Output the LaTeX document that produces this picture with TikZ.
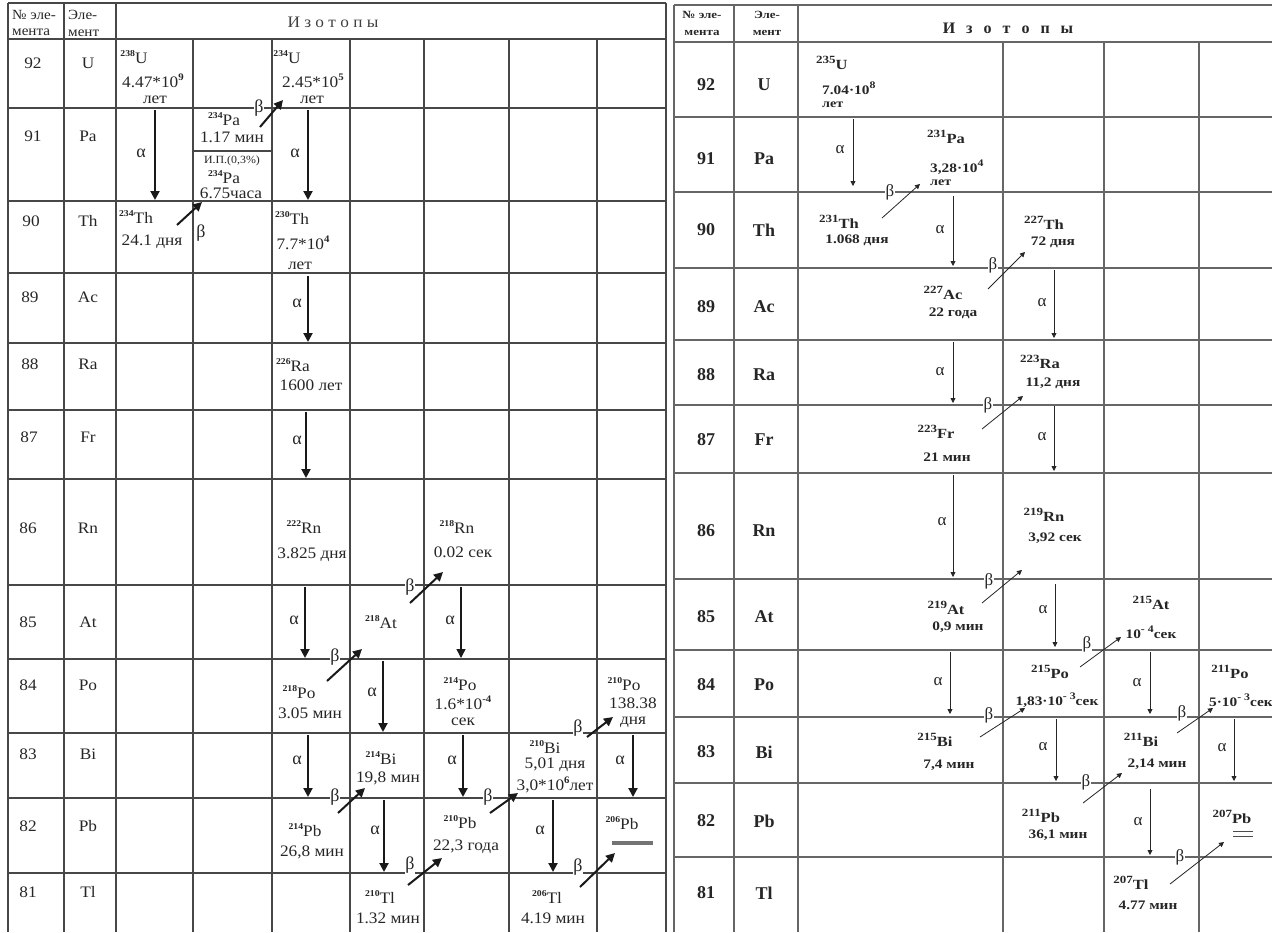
\documentclass[tikz,border=0pt]{standalone}
\usepackage{fontspec}
\setmainfont{Liberation Serif}
\newfontfamily\wideL[FakeStretch=1.08]{Liberation Serif}
\newfontfamily\wideR[FakeStretch=1.18]{Liberation Serif}
\usetikzlibrary{arrows.meta}
\newcommand\isoL[2]{\raisebox{0.4em}{\fontsize{9}{9}\selectfont\bfseries #1}#2}
\newcommand\isoR[2]{\raisebox{0.45em}{\fontsize{11}{11}\selectfont\bfseries #1}#2}
\newcommand\exL[1]{\raisebox{0.45em}{\fontsize{10}{10}\selectfont\bfseries #1}}
\newcommand\exR[1]{\raisebox{0.45em}{\fontsize{10}{10}\selectfont\bfseries #1}}
\newcommand\alL[4]{\coordinate (#1s) at (#2,#3); \coordinate (#1e) at (#2,#4); \draw[arrL] (#1s) -- (#1e);}
\newcommand\alR[4]{\coordinate (#1s) at (#2,#3); \coordinate (#1e) at (#2,#4); \draw[arrR] (#1s) -- (#1e);}
\newcommand\beL[5]{\coordinate (#1s) at (#2,#3); \coordinate (#1e) at (#4,#5); \draw[arrL] (#1s) -- (#1e);}
\newcommand\beR[5]{\coordinate (#1s) at (#2,#3); \coordinate (#1e) at (#4,#5); \draw[arrR] (#1s) -- (#1e);}
\begin{document}
\begin{tikzpicture}[x=1pt,y=-1pt,
  gridL/.style={line width=1.6pt, draw=black!72},
  gridR/.style={line width=1.4pt, draw=black!60},
  tL/.style={font=\wideL\fontsize{16}{18}\selectfont, inner sep=0pt, text=black!85},
  hL/.style={font=\wideL\fontsize{14}{16}\selectfont, inner sep=0pt, text=black!85, anchor=west},
  tR/.style={font=\wideR\fontsize{14}{16}\selectfont\bfseries, inner sep=0pt, text=black!85},
  tRs/.style={font=\wideR\fontsize{13}{14}\selectfont\bfseries, inner sep=0pt, text=black!85},
  nR/.style={font=\fontsize{18}{20}\selectfont\bfseries, inner sep=0pt, text=black!85},
  hR/.style={font=\wideR\fontsize{11}{13}\selectfont\bfseries, inner sep=0pt, text=black!85},
  arrL/.style={line width=2pt, draw=black!90, -{Triangle[length=9pt,width=9pt]}},
  arrR/.style={line width=0.8pt, draw=black!85, -{Triangle[length=5pt,width=5pt]}},
  aL/.style={font=\fontsize{18}{18}\selectfont, inner sep=0.5pt, text=black!85},
  bL/.style={font=\fontsize{18}{18}\selectfont, inner sep=0.5pt, fill=white, text=black!85},
  aR/.style={font=\fontsize{17}{17}\selectfont, inner sep=0.5pt, text=black!85},
  bR/.style={font=\fontsize{17}{17}\selectfont, inner sep=0.5pt, fill=white, text=black!85},
]
\useasboundingbox (0,0) rectangle (1272,932);
\fill[white] (0,0) rectangle (1272,932);

% ---------------- left table grid ----------------
\foreach \x in {8,64,116,666} \draw[gridL] (\x,3) -- (\x,932);
\foreach \x in {193,272,350,424,509,597} \draw[gridL] (\x,39) -- (\x,932);
\foreach \y in {3,39,108,201,273,343,410,479,585,659,733,798,873} \draw[gridL] (8,\y) -- (666,\y);
\draw[gridL] (193,151) -- (272,151);

% ---------------- right table grid ----------------
\foreach \x in {674,734,798} \draw[gridR] (\x,5) -- (\x,932);
\foreach \x in {1003,1104,1199} \draw[gridR] (\x,42) -- (\x,932);
\foreach \y in {5,42,117,192,268,340,405,473,579,650,717,783,857} \draw[gridR] (674,\y) -- (1272,\y);

% ---------------- left header ----------------
\node[hL] (lh1a) at (12,15) {№ эле-};
\node[hL] (lh1b) at (12,32) {мента};
\node[hL] (lh2a) at (68,15) {Эле-};
\node[hL] (lh2b) at (68,33) {мент};
\node[tL, font=\wideL\fontsize{16}{18}\selectfont, text=black!75] (lh3) at (333,22) {И з о т о п ы};

% left row labels
\foreach \n/\e/\y/\xx in {92/U/63/33, 91/Pa/136/33, 90/Th/221/31, 89/Ac/297/30, 88/Ra/364/30, 87/Fr/437/29, 86/Rn/528/28, 85/At/622/28, 84/Po/685/28, 83/Bi/754/28, 82/Pb/826/28, 81/Tl/892/28}{
  \node[tL] (ln\n) at (\xx,\y) {\n};
  \node[tL] (le\n) at (88,\y) {\e};
}

% ---------------- left content ----------------
% row 92
\node[tL] (U238) at (134,57) {\isoL{238}{U}};
\node[tL] (U238t) at (153,81) {4.47*10\exL{9}};
\node[tL] (U238y) at (155,100) {лет};
\node[tL] (U234) at (287,57) {\isoL{234}{U}};
\node[tL] (U234t) at (313,81) {2.45*10\exL{5}};
\node[tL] (U234y) at (312,100) {лет};
% row 91
\alL{la1}{155}{110}{200}
\node[aL] (la1l) at (141,153) {α};
\node[tL] (Pa234) at (224,119) {\isoL{234}{Pa}};
\node[tL] (Pa234t) at (232,137) {1.17 мин};
\node[tL, font=\wideL\fontsize{11}{12}\selectfont] (IP) at (232,161) {И.П.(0,3\%)};
\node[tL] (Pa234b) at (224,177) {\isoL{234}{Pa}};
\node[tL] (Pa234bt) at (231,193) {6.75часа};
\beL{lb1}{260}{127}{283}{100}
\node[bL] (lb1l) at (259,108) {β};
\alL{la2}{308}{110}{200}
\node[aL] (la2l) at (295,153) {α};
% row 90
\node[tL] (Th234) at (136,217) {\isoL{234}{Th}};
\node[tL] (Th234t) at (152,242) {24.1 дня};
\beL{lb2}{177}{225}{202}{202}
\node[aL] (lb2l) at (201,233) {β};
\node[tL] (Th230) at (292,218) {\isoL{230}{Th}};
\node[tL] (Th230t) at (303,243) {7.7*10\exL{4}};
\node[tL] (Th230y) at (300,266) {лет};
% row 89
\alL{la3}{308}{276}{342}
\node[aL] (la3l) at (297,303) {α};
% row 88
\node[tL] (Ra226) at (293,365) {\isoL{226}{Ra}};
\node[tL] (Ra226t) at (311,385) {1600 лет};
% row 87
\alL{la4}{306}{412}{478}
\node[aL] (la4l) at (297,440) {α};
% row 86
\node[tL] (Rn222) at (304,527) {\isoL{222}{Rn}};
\node[tL] (Rn222t) at (312,555) {3.825 дня};
\node[tL] (Rn218) at (457,527) {\isoL{218}{Rn}};
\node[tL] (Rn218t) at (463,552) {0.02 сек};
\beL{lb3}{410}{603}{443}{572}
\node[bL] (lb3l) at (410,587) {β};
% row 85
\alL{la5}{305}{587}{658}
\node[aL] (la5l) at (294,620) {α};
\node[tL] (At218) at (381,622) {\isoL{218}{At}};
\draw[arrL, line width=1.3pt] (461,587) coordinate (la6s) -- (461,658) coordinate (la6e);
\node[aL] (la6l) at (450,620) {α};
\beL{lb4}{327}{681}{362}{649}
\node[bL] (lb4l) at (335,657) {β};
% row 84
\node[tL] (Po218) at (299,692) {\isoL{218}{Po}};
\node[tL] (Po218t) at (310,713) {3.05 мин};
\alL{la7}{383}{661}{732}
\node[aL] (la7l) at (372,692) {α};
\node[tL] (Po214) at (460,684) {\isoL{214}{Po}};
\node[tL] (Po214t) at (463,703) {1.6*10\exL{-4}};
\node[tL] (Po214y) at (463,722) {сек};
\node[tL] (Po210) at (624,684) {\isoL{210}{Po}};
\node[tL] (Po210t) at (633,703) {138.38};
\node[tL] (Po210y) at (633,722) {дня};
\beL{lb5}{587}{737}{613}{717}
\node[bL] (lb5l) at (578,728) {β};
% row 83
\alL{la8}{308}{735}{797}
\node[aL] (la8l) at (297,760) {α};
\node[tL] (Bi214) at (381,758) {\isoL{214}{Bi}};
\node[tL] (Bi214t) at (388,778) {19,8 мин};
\alL{la9}{463}{735}{797}
\node[aL] (la9l) at (452,760) {α};
\node[tL] (Bi210) at (545,747) {\isoL{210}{Bi}};
\node[tL] (Bi210t) at (555,765) {5,01 дня};
\node[tL] (Bi210y) at (555,785) {3,0*10\exL{6}лет};
\alL{la10}{633}{735}{797}
\node[aL] (la10l) at (620,760) {α};
\beL{lb6}{338}{813}{365}{788}
\node[bL] (lb6l) at (335,797) {β};
\beL{lb7}{490}{813}{518}{793}
\node[bL] (lb7l) at (488,797) {β};
% row 82
\node[tL] (Pb214) at (305,830) {\isoL{214}{Pb}};
\node[tL] (Pb214t) at (312,852) {26,8 мин};
\alL{la11}{384}{800}{872}
\node[aL] (la11l) at (375,830) {α};
\node[tL] (Pb210) at (460,822) {\isoL{210}{Pb}};
\node[tL] (Pb210t) at (466,847) {22,3 года};
\alL{la12}{553}{800}{872}
\node[aL] (la12l) at (540,830) {α};
\node[tL] (Pb206) at (622,823) {\isoL{206}{Pb}};
\draw[line width=4.5pt, draw=black!55] (612,843) coordinate (barA) -- (653,843) coordinate (barB);
\beL{lb8}{408}{885}{442}{858}
\node[bL] (lb8l) at (410,865) {β};
\beL{lb9}{580}{887}{615}{853}
\node[bL] (lb9l) at (578,867) {β};
% row 81
\node[tL] (Tl210) at (380,897) {\isoL{210}{Tl}};
\node[tL] (Tl210t) at (388,918) {1.32 мин};
\node[tL] (Tl206) at (547,897) {\isoL{206}{Tl}};
\node[tL] (Tl206t) at (553,918) {4.19 мин};

% ---------------- right header ----------------
\node[hR] (rh1a) at (702,15) {№ эле-};
\node[hR] (rh1b) at (702,33) {мента};
\node[hR] (rh2a) at (767,15) {Эле-};
\node[hR] (rh2b) at (767,33) {мент};
\node[nR, font=\fontsize{16}{18}\selectfont\bfseries] (rh3) at (1008,28) {И\hspace{11pt}з\hspace{11pt}о\hspace{11pt}т\hspace{11pt}о\hspace{11pt}п\hspace{11pt}ы};

\foreach \n/\e/\y in {92/U/85, 91/Pa/159, 90/Th/230, 89/Ac/307, 88/Ra/375, 87/Fr/440, 86/Rn/531, 85/At/617, 84/Po/685, 83/Bi/752, 82/Pb/821, 81/Tl/893}{
  \node[nR] (rn\n) at (706,\y) {\n};
  \node[nR] (re\n) at (764,\y) {\e};
}

% ---------------- right content ----------------
% row 92
\node[tR, anchor=west] (U235) at (816,63) {\isoR{235}{U}};
\node[tRs, anchor=west] (U235t) at (822,88) {7.04·10\exR{8}};
\node[tRs, anchor=west, font=\wideR\fontsize{12}{13}\selectfont\bfseries] (U235y) at (822,105) {лет};
% row 91
\alR{ra1}{853}{119}{186}
\node[aR] (ra1l) at (840,150) {α};
\node[tR] (Pa231) at (946,137) {\isoR{231}{Pa}};
\node[tRs, anchor=west] (Pa231t) at (930,167) {3,28·10\exR{4}};
\node[tRs, anchor=west, font=\wideR\fontsize{12}{13}\selectfont\bfseries] (Pa231y) at (930,183) {лет};
\beR{rb1}{882}{218}{920}{184}
\node[bR] (rb1l) at (890,192) {β};
% row 90
\node[tR] (Th231) at (839,222) {\isoR{231}{Th}};
\node[tRs] (Th231t) at (857,240) {1.068 дня};
\alR{ra2}{953}{196}{266}
\node[aR] (ra2l) at (940,230) {α};
\node[tR] (Th227) at (1044,223) {\isoR{227}{Th}};
\node[tRs] (Th227t) at (1053,242) {72 дня};
\beR{rb2}{988}{289}{1025}{252}
\node[bR] (rb2l) at (993,265) {β};
% row 89
\node[tR] (Ac227) at (943,293) {\isoR{227}{Ac}};
\node[tRs] (Ac227t) at (953,313) {22 года};
\alR{ra3}{1054}{270}{338}
\node[aR] (ra3l) at (1042,303) {α};
% row 88
\alR{ra4}{953}{342}{403}
\node[aR] (ra4l) at (940,372) {α};
\node[tR] (Ra223) at (1040,362) {\isoR{223}{Ra}};
\node[tRs] (Ra223t) at (1053,383) {11,2 дня};
\beR{rb3}{982}{429}{1023}{396}
\node[bR] (rb3l) at (988,405) {β};
% row 87
\node[tR] (Fr223) at (936,432) {\isoR{223}{Fr}};
\node[tRs] (Fr223t) at (947,457) {21 мин};
\alR{ra5}{1054}{406}{471}
\node[aR] (ra5l) at (1042,437) {α};
% row 86
\alR{ra6}{953}{475}{577}
\node[aR] (ra6l) at (942,522) {α};
\node[tR] (Rn219) at (1044,515) {\isoR{219}{Rn}};
\node[tRs] (Rn219t) at (1055,538) {3,92 сек};
\beR{rb4}{982}{603}{1022}{570}
\node[bR] (rb4l) at (989,581) {β};
% row 85
\node[tR] (At219) at (946,608) {\isoR{219}{At}};
\node[tRs] (At219t) at (958,627) {0,9 мин};
\alR{ra7}{1055}{584}{647}
\node[aR] (ra7l) at (1043,610) {α};
\node[tR] (At215) at (1151,603) {\isoR{215}{At}};
\node[tRs] (At215t) at (1151,632) {10\exR{- 4}сек};
\beR{rb5}{1080}{667}{1121}{637}
\node[bR] (rb5l) at (1087,644) {β};
% row 84
\alR{ra8}{950}{652}{714}
\node[aR] (ra8l) at (938,682) {α};
\node[tR] (Po215) at (1050,672) {\isoR{215}{Po}};
\node[tRs] (Po215t) at (1057,700) {1,83·10\exR{- 3}сек};
\alR{ra9}{1150}{652}{714}
\node[aR] (ra9l) at (1137,683) {α};
\node[tR] (Po211) at (1230,672) {\isoR{211}{Po}};
\node[tRs, anchor=west] (Po211t) at (1209,700) {5·10\exR{- 3}сек};
\beR{rb6}{980}{737}{1025}{708}
\node[bR] (rb6l) at (989,715) {β};
\beR{rb7}{1177}{733}{1213}{708}
\node[bR] (rb7l) at (1182,713) {β};
% row 83
\node[tR] (Bi215) at (935,740) {\isoR{215}{Bi}};
\node[tRs] (Bi215t) at (949,765) {7,4 мин};
\alR{ra10}{1056}{719}{781}
\node[aR] (ra10l) at (1043,747) {α};
\node[tR] (Bi211) at (1141,740) {\isoR{211}{Bi}};
\node[tRs] (Bi211t) at (1157,764) {2,14 мин};
\alR{ra11}{1234}{719}{781}
\node[aR] (ra11l) at (1222,748) {α};
\beR{rb8}{1083}{803}{1122}{773}
\node[bR] (rb8l) at (1086,782) {β};
% row 82
\node[tR] (Pb211) at (1041,816) {\isoR{211}{Pb}};
\node[tRs] (Pb211t) at (1058,835) {36,1 мин};
\alR{ra12}{1150}{789}{855}
\node[aR] (ra12l) at (1138,822) {α};
\node[tR] (Pb207) at (1232,817) {\isoR{207}{Pb}};
\draw[line width=1pt, draw=black!70] (1233,831) coordinate (u1a) -- (1253,831) coordinate (u1b);
\draw[line width=1pt, draw=black!70] (1233,836) coordinate (u2a) -- (1253,836) coordinate (u2b);
\beR{rb9}{1170}{884}{1224}{842}
\node[bR] (rb9l) at (1180,857) {β};
% row 81
\node[tR] (Tl207) at (1131,883) {\isoR{207}{Tl}};
\node[tRs] (Tl207t) at (1148,905) {4.77 мин};
\end{tikzpicture}
\end{document}
